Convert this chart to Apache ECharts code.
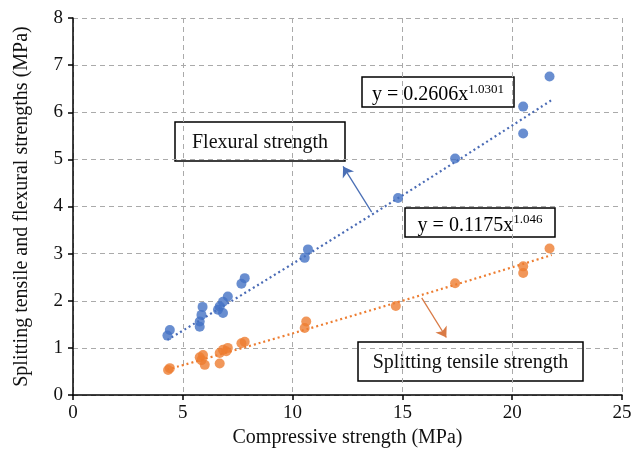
<!DOCTYPE html>
<html>
<head>
<meta charset="utf-8">
<script src="https://cdn.jsdelivr.net/npm/echarts@6/dist/echarts.min.js"></script>
<style>
  html, body { margin: 0; padding: 0; background: #fff; }
  #chart { width: 641px; height: 458px; }
</style>
</head>
<body>
<div id="chart"></div>
<script>
// data
const flexural = [
  [4.3, 1.26], [4.41, 1.38], [5.77, 1.45], [5.77, 1.56], [5.85, 1.70], [5.9, 1.87],
  [6.6, 1.81], [6.68, 1.88], [6.83, 1.74], [6.83, 1.98], [7.05, 2.09],
  [7.67, 2.36], [7.82, 2.48], [10.55, 2.91], [10.7, 3.09], [14.8, 4.18],
  [17.4, 5.02], [20.5, 5.55], [20.5, 6.12], [21.7, 6.76]
];
const splitting = [
  [4.33, 0.53], [4.41, 0.57], [5.77, 0.80], [5.85, 0.74], [5.92, 0.85], [6.0, 0.64],
  [6.68, 0.67], [6.68, 0.89], [6.83, 0.96], [6.98, 0.93], [7.05, 1.0],
  [7.67, 1.10], [7.82, 1.13], [10.55, 1.42], [10.62, 1.56], [14.7, 1.89],
  [17.4, 2.37], [20.5, 2.59], [20.5, 2.73], [21.7, 3.11]
];
// trend line ends as seen in the figure
const flexTrend = [[4.3, 1.17], [13.0, 3.65], [21.8, 6.26]];
const splitTrend = [[4.3, 0.54], [13.0, 1.72], [21.8, 2.97]];
const xTicks = [0, 5, 10, 15, 20, 25];
const yTicks = [0, 1, 2, 3, 4, 5, 6, 7, 8];

const serif = '"Liberation Serif", "Times New Roman", serif';
const chart = echarts.init(document.getElementById('chart'));

function box(x, y, w, h, content) {
  return {
    type: 'group',
    x: x, y: y,
    children: [
      { type: 'rect', shape: { x: 0, y: 0, width: w, height: h },
        style: { fill: '#fff', stroke: '#000', lineWidth: 1.5 } },
      { type: 'text', x: w / 2, y: h / 2 + 1,
        style: Object.assign({ align: 'center', verticalAlign: 'middle' }, content) }
    ]
  };
}

const eqRich = {
  a: { fontFamily: serif, fontSize: 20, color: '#111', verticalAlign: 'bottom', lineHeight: 24 },
  s: { fontFamily: serif, fontSize: 13, color: '#111', verticalAlign: 'top', lineHeight: 24, padding: [2, 0, 0, 0] }
};

const option = {
  animation: false,
  backgroundColor: '#fff',
  grid: { left: 73, right: 19, top: 18, bottom: 63 },
  xAxis: {
    type: 'value',
    min: xTicks[0], max: xTicks[xTicks.length - 1], interval: 5,
    name: 'Compressive strength (MPa)',
    nameLocation: 'middle', nameGap: 31,
    nameTextStyle: { fontFamily: serif, fontSize: 20, color: '#111' },
    axisLine: { lineStyle: { color: '#000', width: 1.5 } },
    axisTick: { show: true, length: 5, lineStyle: { color: '#000', width: 1.5 } },
    axisLabel: { fontFamily: serif, fontSize: 19, color: '#111', margin: 9 },
    splitLine: { show: true, lineStyle: { color: '#aaa', type: [5, 4], width: 1 } }
  },
  yAxis: {
    type: 'value',
    min: yTicks[0], max: yTicks[yTicks.length - 1], interval: 1,
    name: 'Splitting tensile and flexural strengths (MPa)',
    nameLocation: 'middle', nameGap: 41,
    nameTextStyle: { fontFamily: serif, fontSize: 20, color: '#111' },
    axisLine: { show: true, lineStyle: { color: '#000', width: 1.5 } },
    axisTick: { show: true, length: 5, lineStyle: { color: '#000', width: 1.5 } },
    axisLabel: { fontFamily: serif, fontSize: 19, color: '#111', margin: 10 },
    splitLine: { show: true, lineStyle: { color: '#aaa', type: [5, 4], width: 1 } }
  },
  series: [
    {
      name: 'Flexural trend', type: 'line', data: flexTrend, smooth: true,
      symbol: 'none', z: 2,
      lineStyle: { color: '#4a6bb5', width: 2.2, type: [2, 3] },
      markLine: {
        silent: true, symbol: ['none', 'arrow'], symbolSize: 10, label: { show: false },
        lineStyle: { color: '#4a6fb5', width: 1.3, type: 'solid' },
        data: [[{ coord: [13.6, 3.88] }, { coord: [12.3, 4.85] }]]
      }
    },
    {
      name: 'Splitting trend', type: 'line', data: splitTrend, smooth: true,
      symbol: 'none', z: 2,
      lineStyle: { color: '#ED7D31', width: 2.2, type: [2, 3] },
      markLine: {
        silent: true, symbol: ['none', 'arrow'], symbolSize: 10, label: { show: false },
        lineStyle: { color: '#d97a45', width: 1.3, type: 'solid' },
        data: [[{ coord: [15.88, 2.06] }, { coord: [17.0, 1.22] }]]
      }
    },
    {
      name: 'Flexural strength', type: 'scatter', data: flexural,
      symbolSize: 10, z: 3, itemStyle: { color: '#4472C4' }
    },
    {
      name: 'Splitting tensile strength', type: 'scatter', data: splitting,
      symbolSize: 10, z: 3, itemStyle: { color: '#ED7D31' }
    }
  ],
  graphic: [
    box(175, 122, 170, 39, { text: 'Flexural strength', font: '20px ' + serif, fill: '#111' }),
    box(362, 77, 152, 30, { text: '{a|y = 0.2606x}{s|1.0301}', rich: eqRich }),
    box(405, 208, 150, 29, { text: '{a|y = 0.1175x}{s|1.046}', rich: eqRich }),
    box(358, 342, 225, 39, { text: 'Splitting tensile strength', font: '20px ' + serif, fill: '#111' })
  ]
};
chart.setOption(option);
</script>
</body>
</html>
